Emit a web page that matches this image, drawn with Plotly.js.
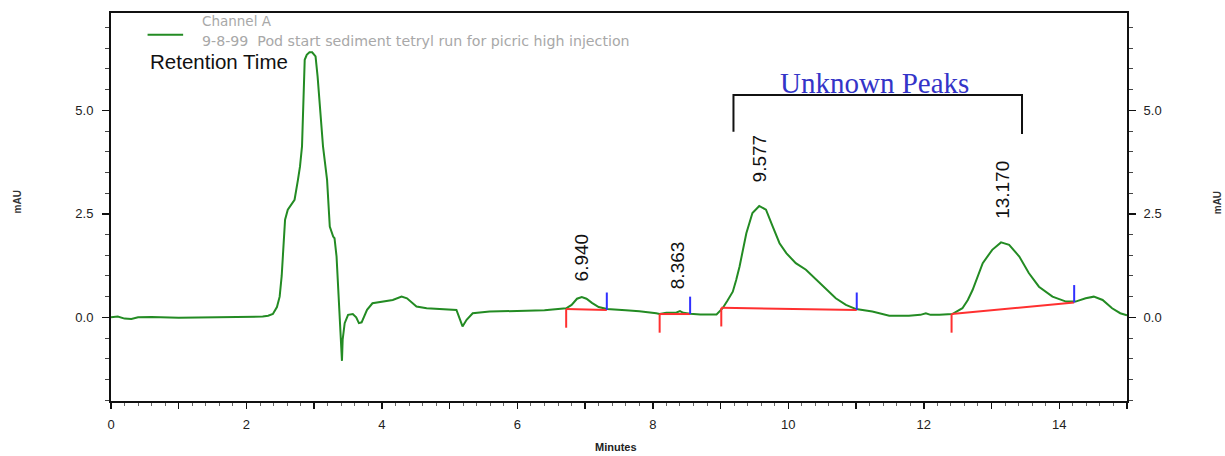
<!DOCTYPE html>
<html>
<head>
<meta charset="utf-8">
<script src="https://cdn.plot.ly/plotly-3.0.1.min.js"></script>
<style>html,body{margin:0;padding:0;background:#fff;}#chart{width:1225px;height:456px;}</style>
</head>
<body>
<div id="chart"></div>
<script>
// Chromatogram (Channel A), time in minutes, absorbance in mAU
const timeMin = [0, 0.1, 0.2, 0.3, 0.4, 0.6, 1.0, 1.4, 1.8, 2.1, 2.24, 2.32, 2.39, 2.45, 2.49, 2.52, 2.54, 2.57, 2.61, 2.64, 2.71, 2.76, 2.79, 2.82, 2.84, 2.86, 2.89, 2.93, 2.97, 3.02, 3.05, 3.08, 3.13, 3.19, 3.23, 3.28, 3.30, 3.33, 3.36, 3.38, 3.40, 3.41, 3.42, 3.45, 3.50, 3.57, 3.62, 3.66, 3.70, 3.78, 3.86, 4.01, 4.16, 4.29, 4.37, 4.51, 4.66, 5.10, 5.15, 5.19, 5.25, 5.34, 5.59, 6.0, 6.4, 6.72, 6.80, 6.88, 6.95, 7.02, 7.10, 7.20, 7.32, 7.6, 7.8, 8.05, 8.10, 8.20, 8.35, 8.40, 8.45, 8.55, 8.70, 8.94, 9.03, 9.10, 9.18, 9.23, 9.28, 9.38, 9.47, 9.57, 9.67, 9.77, 9.87, 9.97, 10.11, 10.26, 10.41, 10.56, 10.70, 10.85, 11.00, 11.24, 11.49, 11.78, 11.95, 12.03, 12.10, 12.23, 12.42, 12.57, 12.65, 12.72, 12.80, 12.87, 13.01, 13.14, 13.26, 13.41, 13.55, 13.70, 13.90, 14.10, 14.24, 14.39, 14.51, 14.64, 14.78, 14.90, 15.0];
const signalMAU = [0.0, 0.02, -0.03, -0.04, 0.0, 0.01, -0.01, 0.0, 0.0, 0.0, 0.02, 0.04, 0.08, 0.25, 0.50, 1.0, 1.55, 2.36, 2.60, 2.68, 2.84, 3.32, 3.64, 4.13, 5.25, 6.22, 6.34, 6.40, 6.40, 6.30, 5.82, 5.09, 4.13, 3.32, 2.19, 1.95, 1.91, 1.47, 0.5, -0.38, -0.9, -1.05, -0.54, -0.14, 0.06, 0.08, 0.0, -0.14, -0.12, 0.18, 0.34, 0.38, 0.42, 0.50, 0.46, 0.26, 0.22, 0.18, -0.06, -0.22, -0.06, 0.10, 0.14, 0.15, 0.17, 0.22, 0.30, 0.45, 0.49, 0.45, 0.35, 0.25, 0.20, 0.17, 0.15, 0.10, 0.08, 0.11, 0.12, 0.15, 0.11, 0.09, 0.07, 0.07, 0.22, 0.40, 0.62, 0.90, 1.23, 2.03, 2.52, 2.69, 2.60, 2.19, 1.79, 1.55, 1.31, 1.15, 0.91, 0.66, 0.46, 0.30, 0.20, 0.14, 0.04, 0.04, 0.06, 0.10, 0.06, 0.06, 0.08, 0.22, 0.42, 0.66, 1.0, 1.31, 1.63, 1.81, 1.75, 1.47, 1.07, 0.74, 0.50, 0.38, 0.38, 0.46, 0.50, 0.42, 0.22, 0.10, 0.05];

// Integrated peaks
const peakLabels = ["6.940", "8.363", "9.577", "13.170"];
const peakLabelY = [1.45, 1.27, 3.83, 3.08];
const intStart = [6.72, 8.10, 9.01, 12.41];
const intEnd = [7.32, 8.55, 11.01, 14.22];
const baseStartY = [0.20, 0.08, 0.23, 0.08];
const baseEndY = [0.18, 0.08, 0.18, 0.36];

// Axis ticks
const yTickVals = [0, 2.5, 5];
const yTickText = ["0.0", "2.5", "5.0"];
const xTickVals = [0,1,2,3,4,5,6,7,8,9,10,11,12,13,14,15];
const xTickText = ["0","","2","","4","","6","","8","","10","","12","","14",""];

const GREEN = '#238b23';
const RED = '#ff3030';
const BLUE = '#3030ff';
const YR = [-2.02, 7.35];
const tickDrop = 0.45, tickRise = 0.42;

const shapes = [];
for (let i = 0; i < intStart.length; i++) {
  shapes.push({type:'line', xref:'x', yref:'y', x0:intStart[i], y0:baseStartY[i], x1:intEnd[i], y1:baseEndY[i], line:{color:RED, width:2}});
  shapes.push({type:'line', xref:'x', yref:'y', x0:intStart[i], y0:baseStartY[i], x1:intStart[i], y1:baseStartY[i]-tickDrop, line:{color:RED, width:2}});
  shapes.push({type:'line', xref:'x', yref:'y', x0:intEnd[i], y0:baseEndY[i], x1:intEnd[i], y1:baseEndY[i]+tickRise, line:{color:BLUE, width:2}});
}
// "Unknown Peaks" bracket
const bracket = {x0: 9.19, x1: 13.45, top: 5.37, leftEnd: 4.48, rightEnd: 4.43};
shapes.push({type:'path', xref:'x', yref:'y',
  path:`M ${bracket.x0},${bracket.leftEnd} L ${bracket.x0},${bracket.top} L ${bracket.x1},${bracket.top} L ${bracket.x1},${bracket.rightEnd}`,
  line:{color:'#111', width:2}});
// legend swatch
shapes.push({type:'line', xref:'paper', yref:'paper', x0:0.036, x1:0.071, y0:0.944, y1:0.944, line:{color:GREEN, width:2}});

const annotations = [];
for (let i = 0; i < peakLabels.length; i++) {
  annotations.push({x: parseFloat(peakLabels[i]), y: peakLabelY[i], xref:'x', yref:'y', text: peakLabels[i], textangle:-90, showarrow:false,
    xanchor:'center', yanchor:'middle',
    font:{family:'Liberation Sans, Arial', size:19, color:'#111'}});
}
annotations.push({x: 11.27, y: 5.66, xref:'x', yref:'y', text:'Unknown Peaks', showarrow:false, xanchor:'center', yanchor:'middle',
  font:{family:'Liberation Serif, Times New Roman', size:29, color:'#3434c8'}});
annotations.push({x:0.0875, y:0.98, xref:'paper', yref:'paper', xanchor:'left', yanchor:'middle', text:'Channel A', showarrow:false,
  font:{family:'DejaVu Sans', size:13.5, color:'#a8a8a8'}});
annotations.push({x:0.0875, y:0.927, xref:'paper', yref:'paper', xanchor:'left', yanchor:'middle', text:'9-8-99  Pod start sediment tetryl run for picric high injection', showarrow:false,
  font:{family:'DejaVu Sans', size:14.2, color:'#a8a8a8'}});
annotations.push({x:0.036, y:0.874, xref:'paper', yref:'paper', xanchor:'left', yanchor:'middle', text:'Retention Time', showarrow:false,
  font:{family:'Liberation Sans, Arial', size:20.5, color:'#111'}});
annotations.push({x:0.4975, y:-0.118, xref:'paper', yref:'paper', xanchor:'center', yanchor:'middle', text:'<b>Minutes</b>', showarrow:false,
  font:{family:'Liberation Sans, Arial', size:11, color:'#222'}});
annotations.push({x:-0.0924, y:0.512, xref:'paper', yref:'paper', xanchor:'center', yanchor:'middle', text:'<b>mAU</b>', textangle:-90, showarrow:false,
  font:{family:'Liberation Sans, Arial', size:10, color:'#333'}});
annotations.push({x:1.0885, y:0.512, xref:'paper', yref:'paper', xanchor:'center', yanchor:'middle', text:'<b>mAU</b>', textangle:-90, showarrow:false,
  font:{family:'Liberation Sans, Arial', size:10, color:'#333'}});

const tickFont = {family:'Liberation Sans, Arial', size:13, color:'#222'};
const yCommon = {range: YR, tickvals: yTickVals, ticktext: yTickText, ticks:'outside', ticklen:7, tickwidth:1.5, tickcolor:'#111',
  showline:true, linecolor:'#111', linewidth:2, showgrid:false, zeroline:false, tickfont: tickFont,
  minor:{dtick:0.5, tick0:0, ticks:'outside', ticklen:4, tickcolor:'#444', tickwidth:1, showgrid:false}};

const data = [
  {x: timeMin, y: signalMAU, type:'scatter', mode:'lines', line:{color:GREEN, width:2}, hoverinfo:'skip', showlegend:false},
  {x: [null], y: [null], type:'scatter', mode:'lines', yaxis:'y2', hoverinfo:'skip', showlegend:false}
];

const layout = {
  width:1225, height:456,
  margin:{l:111, r:98, t:13, b:55},
  paper_bgcolor:'#fff', plot_bgcolor:'#fff',
  showlegend:false,
  xaxis:{range:[0,15], tickvals:xTickVals, ticktext:xTickText, ticks:'outside', ticklen:6, tickwidth:1.5, tickcolor:'#111',
    showline:true, linecolor:'#111', linewidth:2, mirror:true, showgrid:false, zeroline:false, tickfont: tickFont,
    ticklabelstandoff:4,
    minor:{dtick:0.2, tick0:0, ticks:'outside', ticklen:3, tickcolor:'#666', tickwidth:1, showgrid:false}},
  yaxis: Object.assign({}, yCommon, {side:'left', ticklabelstandoff:6}),
  yaxis2: Object.assign({}, yCommon, {side:'right', overlaying:'y', ticklabelstandoff:5}),
  shapes: shapes,
  annotations: annotations
};

Plotly.newPlot('chart', data, layout, {displayModeBar:false, staticPlot:true});
</script>
</body>
</html>
